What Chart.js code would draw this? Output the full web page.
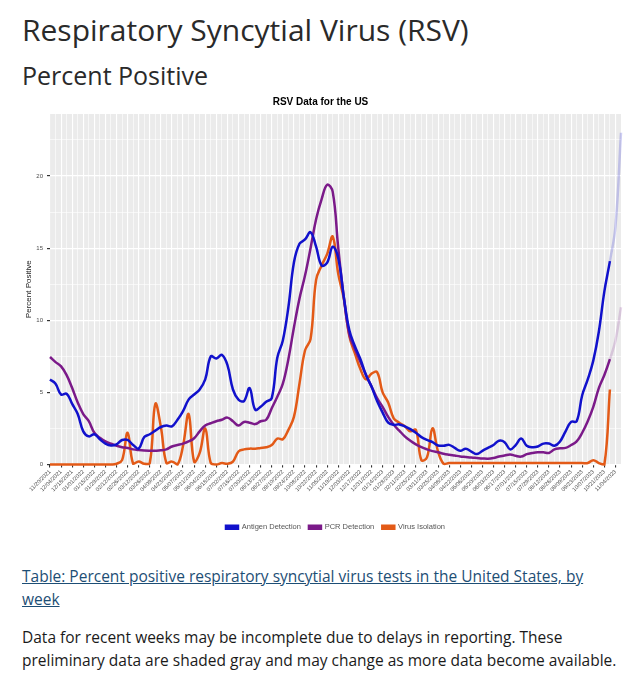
<!DOCTYPE html>
<html>
<head>
<meta charset="utf-8">
<title>RSV Percent Positive</title>
<script src="https://cdn.jsdelivr.net/npm/chart.js@4.4.0/dist/chart.umd.min.js"></script>
<style>
    body { margin: 0; background: #fff; font-family: "Open Sans", sans-serif; color: #222; }
    .page { position: relative; width: 634px; height: 687px; overflow: hidden; }
    h1 { position: absolute; left: 22px; top: 9px; margin: 0; font-size: 30px; font-weight: 400; line-height: 42px; color: #2a2a2a; }
    h2 { position: absolute; left: 22px; top: 58px; margin: 0; font-size: 25px; font-weight: 400; line-height: 34px; color: #2a2a2a; }
    .chart-box { position: absolute; left: 0; top: 90px; width: 634px; height: 460px; }
    .table-link { position: absolute; left: 22px; top: 565px; width: 600px; font-size: 15.5px; line-height: 23px; color: #1d4e75; text-decoration: underline; }
    .note { position: absolute; left: 22px; top: 626px; width: 612px; font-size: 15.5px; line-height: 23px; color: #1a1a1a; margin: 0; }
</style>
</head>
<body>
<div class="page">
    <h1>Respiratory Syncytial Virus (RSV)</h1>
    <h2>Percent Positive</h2>
    <div class="chart-box"><canvas id="rsvChart" width="634" height="460"></canvas></div>
    <a class="table-link" href="#">Table: Percent positive respiratory syncytial virus tests in the United States, by<br>week</a>
    <p class="note">Data for recent weeks may be incomplete due to delays in reporting. These<br>preliminary data are shaded gray and may change as more data become available.</p>
</div>

<script>
// week ending dates, 11/20/2021 .. 11/11/2023
const weeks = [
    '11/20/2021', '11/27/2021', '12/04/2021', '12/11/2021', '12/18/2021', '12/25/2021',
    '01/01/2022', '01/08/2022', '01/15/2022', '01/22/2022', '01/29/2022', '02/05/2022',
    '02/12/2022', '02/19/2022', '02/26/2022', '03/05/2022', '03/12/2022', '03/19/2022',
    '03/26/2022', '04/02/2022', '04/09/2022', '04/16/2022', '04/23/2022', '04/30/2022',
    '05/07/2022', '05/14/2022', '05/21/2022', '05/28/2022', '06/04/2022', '06/11/2022',
    '06/18/2022', '06/25/2022', '07/02/2022', '07/09/2022', '07/16/2022', '07/23/2022',
    '07/30/2022', '08/06/2022', '08/13/2022', '08/20/2022', '08/27/2022', '09/03/2022',
    '09/10/2022', '09/17/2022', '09/24/2022', '10/01/2022', '10/08/2022', '10/15/2022',
    '10/22/2022', '10/29/2022', '11/05/2022', '11/12/2022', '11/19/2022', '11/26/2022',
    '12/03/2022', '12/10/2022', '12/17/2022', '12/24/2022', '12/31/2022', '01/07/2023',
    '01/14/2023', '01/21/2023', '01/28/2023', '02/04/2023', '02/11/2023', '02/18/2023',
    '02/25/2023', '03/04/2023', '03/11/2023', '03/18/2023', '03/25/2023', '04/01/2023',
    '04/08/2023', '04/15/2023', '04/22/2023', '04/29/2023', '05/06/2023', '05/13/2023',
    '05/20/2023', '05/27/2023', '06/03/2023', '06/10/2023', '06/17/2023', '06/24/2023',
    '07/01/2023', '07/08/2023', '07/15/2023', '07/22/2023', '07/29/2023', '08/05/2023',
    '08/12/2023', '08/19/2023', '08/26/2023', '09/02/2023', '09/09/2023', '09/16/2023',
    '09/23/2023', '09/30/2023', '10/07/2023', '10/14/2023', '10/21/2023', '10/28/2023',
    '11/04/2023', '11/11/2023'
];

const antigen = [
    5.9, 5.6, 4.85, 4.9, 4.2, 3.5, 2.3, 1.95, 2.1, 1.75,
    1.45, 1.32, 1.4, 1.7, 1.7, 1.35, 1.1, 1.9, 2.1, 2.35,
    2.6, 2.7, 2.65, 3.1, 3.7, 4.5, 4.85, 5.2, 5.9, 7.5,
    7.35, 7.6, 6.9, 5.2, 4.5, 4.4, 5.3, 3.8, 4.0, 4.35,
    4.6, 7.4, 8.6, 10.9, 14.0, 15.3, 15.6, 16.1, 15.1, 13.8,
    14.0, 15.1, 14.3, 11.6, 9.3, 8.2, 7.3, 6.2, 5.4, 4.4,
    3.6, 2.9, 2.75, 2.78, 2.65, 2.45, 2.2, 1.9, 1.7, 1.55,
    1.32, 1.3, 1.36, 1.15, 0.95, 1.1, 0.9, 0.72, 0.95, 1.15,
    1.35, 1.65, 1.55, 1.05, 1.35, 1.8, 1.3, 1.2, 1.25, 1.45,
    1.45, 1.3, 1.6, 2.3, 2.95, 3.0, 4.8, 5.9, 7.2, 9.2,
    12.0, 14.1, 16.5, 23.0
];

const pcr = [
    7.45, 7.1, 6.8, 6.2, 5.3, 4.3, 3.5, 3.0, 2.2, 1.85,
    1.6, 1.45, 1.3, 1.2, 1.15, 1.05, 1.0, 0.97, 0.96, 0.96,
    0.98, 1.05, 1.25, 1.35, 1.45, 1.6, 1.82, 2.3, 2.7, 2.86,
    3.0, 3.1, 3.25, 3.0, 2.7, 2.95, 2.9, 2.8, 3.0, 3.1,
    3.9, 4.7, 5.6, 7.3, 9.5, 11.5, 13.1, 15.0, 17.0, 18.4,
    19.4, 18.9, 15.0, 11.6, 9.0, 8.0, 7.1, 6.2, 5.4, 4.6,
    4.0, 3.3, 2.75, 2.35, 1.95, 1.65, 1.4, 1.2, 1.05, 0.93,
    0.85, 0.75, 0.68, 0.62, 0.56, 0.52, 0.48, 0.45, 0.42, 0.4,
    0.45, 0.55, 0.62, 0.7, 0.6, 0.55, 0.72, 0.8, 0.85, 0.85,
    0.8, 1.05, 1.12, 1.15, 1.35, 1.6, 2.2, 3.0, 4.0, 5.3,
    6.2, 7.3, 8.6, 10.9
];

const isolation = [
    0, 0, 0, 0, 0, 0, 0, 0, 0, 0,
    0, 0, 0.05, 0.3, 2.2, 0.05, 0.2, 0.05, 0.1, 4.2,
    2.6, 0.1, 0.2, 0, 1.3, 3.5, 0.2, 0.8, 2.5, 0.1,
    0, 0.1, 0.05, 0.2, 0.9, 1.05, 1.1, 1.1, 1.15, 1.2,
    1.35, 1.8, 1.75, 2.4, 3.3, 5.6, 7.9, 8.7, 12.8, 13.8,
    14.6, 15.8, 13.2, 11.5, 8.9, 7.7, 6.6, 5.9, 6.3, 6.4,
    5.0, 4.3, 3.2, 2.9, 2.65, 2.3, 2.4, 0.3, 0.5, 2.5,
    0.9, 0.05, 0.1, 0.1, 0.1, 0.1, 0.1, 0.1, 0.1, 0.1,
    0.1, 0.1, 0.1, 0.1, 0.1, 0.1, 0.1, 0.1, 0.1, 0.1,
    0.1, 0.1, 0.1, 0.1, 0.1, 0.1, 0.1, 0.1, 0.3, 0.1,
    0, 5.2, null, null
];

const yTicks = [0, 5, 10, 15, 20];
const lastFinalWeek = 101; // weeks after this one are preliminary

class RsvChart {
    constructor(canvasId) {
        this.ctx = document.getElementById(canvasId).getContext('2d');
        this.draw();
    }

    series(label, data, color, faded) {
        return {
            label: label,
            data: data,
            borderColor: color,
            backgroundColor: color,
            borderWidth: 2.5,
            pointRadius: 0,
            tension: 0.4,
            clip: 4,
            segment: {
                borderColor: c => c.p0DataIndex >= lastFinalWeek ? faded : undefined
            }
        };
    }

    draw() {
        const panelBg = {
            id: 'panelBg',
            beforeDraw(chart) {
                const a = chart.chartArea;
                const g = chart.ctx;
                g.save();
                g.fillStyle = '#ebebeb';
                g.fillRect(a.left, a.top, a.right - a.left, a.bottom - a.top);
                g.restore();
            }
        };

        new Chart(this.ctx, {
            type: 'line',
            data: {
                labels: weeks,
                datasets: [
                    this.series('Antigen Detection', antigen, '#1111cc', 'rgba(17,17,204,0.2)'),
                    this.series('PCR Detection', pcr, '#7b1a89', 'rgba(123,26,137,0.18)'),
                    this.series('Virus Isolation', isolation, '#e35a17', 'rgba(227,90,23,0.2)')
                ]
            },
            options: {
                responsive: false,
                animation: false,
                layout: { padding: { left: 20, right: 13, top: 0, bottom: 9 } },
                plugins: {
                    title: {
                        display: true,
                        text: 'RSV Data for the US',
                        color: '#000',
                        font: { family: 'Liberation Sans', size: 10, weight: 'bold' },
                        padding: { top: 6, bottom: 6 }
                    },
                    legend: {
                        position: 'bottom',
                        fullSize: false,
                        labels: {
                            boxWidth: 12,
                            boxHeight: 3,
                            padding: 8,
                            color: '#555',
                            font: { family: 'Liberation Sans', size: 7.5 }
                        }
                    },
                    tooltip: { enabled: false }
                },
                scales: {
                    x: {
                        offset: false,
                        border: { display: false },
                        afterFit: s => { s.height = 51; },
                        grid: {
                            color: '#ffffff',
                            lineWidth: c => c.index % 2 ? 0.6 : 1.1,
                            tickColor: c => c.index % 2 ? 'rgba(0,0,0,0)' : '#333',
                            tickLength: 3
                        },
                        ticks: {
                            autoSkip: false,
                            maxRotation: 45,
                            minRotation: 45,
                            padding: 1,
                            color: '#4d4d4d',
                            font: { family: 'Liberation Sans', size: 5.6 },
                            callback: function (v, i) { return i % 2 ? '' : weeks[i]; }
                        }
                    },
                    y: {
                        min: 0,
                        max: 24.3,
                        border: { display: false },
                        afterFit: s => { s.width = 30; },
                        afterBuildTicks: s => {
                            const t = [];
                            for (let v = 0; v <= 22.5; v += 2.5) t.push({ value: v });
                            s.ticks = t;
                        },
                        title: {
                            display: true,
                            text: 'Percent Positive',
                            color: '#222',
                            font: { family: 'Liberation Sans', size: 8 },
                            padding: { top: 4, bottom: 0 }
                        },
                        grid: {
                            color: '#ffffff',
                            lineWidth: c => yTicks.includes(c.tick.value) ? 1.2 : 0.6,
                            tickColor: c => yTicks.includes(c.tick.value) ? '#333' : 'rgba(0,0,0,0)',
                            tickLength: 3
                        },
                        ticks: {
                            padding: 4,
                            color: '#4d4d4d',
                            font: { family: 'Liberation Sans', size: 6 },
                            callback: v => yTicks.includes(v) ? v : ''
                        }
                    }
                }
            },
            plugins: [panelBg]
        });
    }
}

document.addEventListener('DOMContentLoaded', () => {
    window.rsvChart = new RsvChart('rsvChart');
});
</script>
</body>
</html>
